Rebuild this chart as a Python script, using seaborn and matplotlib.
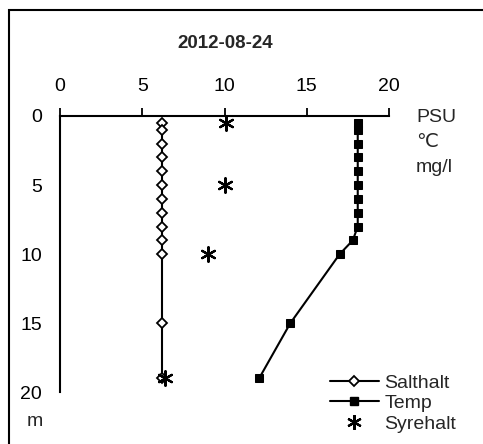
import numpy as np
import pandas as pd
import matplotlib
matplotlib.use("Agg")
import matplotlib.pyplot as plt
import seaborn as sns
from matplotlib.lines import Line2D
from matplotlib.patches import Rectangle

sns.set_theme(style="white")
plt.rcParams['font.family'] = ['Liberation Sans', 'DejaVu Sans']

# data
salt_depth = [0.5, 1, 2, 3, 4, 5, 6, 7, 8, 9, 10, 15, 19]
salt_val = [6.2, 6.2, 6.2, 6.2, 6.2, 6.2, 6.2, 6.2, 6.2, 6.2, 6.2, 6.2, 6.2]
temp_depth = [0.5, 1, 2, 3, 4, 5, 6, 7, 8, 9, 10, 15, 19]
temp_val = [18.1, 18.1, 18.1, 18.1, 18.1, 18.1, 18.1, 18.1, 18.1, 17.8, 17.0, 14.0, 12.1]
oxy_depth = [0.5, 5, 10, 19]
oxy_val = [10.1, 10.0, 9.0, 6.4]

x_ticks = [0, 5, 10, 15, 20]
y_ticks = [0, 5, 10, 15, 20]
title = "2012-08-24"
unit_labels = ["PSU", "\u2103", "mg/l"]

fig = plt.figure(figsize=(4.83, 4.44), dpi=100)
ax = fig.add_axes([60 / 483, 1 - 392.3 / 444, 329 / 483, (392.3 - 116) / 444])
ax.set_facecolor('none')

asterisk = (6, 2, 0)

sns.lineplot(x=salt_val, y=salt_depth, sort=False, estimator=None, ax=ax, color='black', lw=1.5,
             marker='D', markersize=5, mfc='white', mec='black', mew=1.3, clip_on=False)
sns.lineplot(x=temp_val, y=temp_depth, sort=False, estimator=None, ax=ax, color='black', lw=1.5,
             marker='s', markersize=5.8, mfc='black', mec='black', clip_on=False)
sns.scatterplot(x=oxy_val, y=oxy_depth, ax=ax, marker=asterisk, s=110, color='black',
                linewidth=1.6, clip_on=False, zorder=5)

ax.set_xlim(0, 20)
ax.set_ylim(20, 0)
ax.xaxis.tick_top()
ax.set_xticks(x_ticks)
ax.set_yticks(y_ticks)
ax.tick_params(axis='both', which='major', direction='out', length=6, width=1.3,
               labelsize=14, color='black', labelcolor='black')
ax.tick_params(axis='x', pad=9)
ax.tick_params(axis='y', pad=7)
for s in ['bottom', 'right']:
    ax.spines[s].set_visible(False)
for s in ['top', 'left']:
    ax.spines[s].set_color('black')
    ax.spines[s].set_linewidth(1.5)
ax.set_xlabel('')
ax.set_ylabel('')

fig.text(225 / 483, 1 - 43 / 444, title, ha='center', va='center', fontsize=13.5, fontweight='bold')
for i, lab in enumerate(unit_labels):
    fig.text(416 / 483, 1 - (117 + 25 * i) / 444, lab, ha='left', va='center', fontsize=14)
fig.text(35 / 483, 1 - 421 / 444, "m", ha='center', va='center', fontsize=14)

handles = [
    Line2D([], [], color='black', lw=1.5, marker='D', markersize=5, mfc='white', mec='black', mew=1.3),
    Line2D([], [], color='black', lw=1.5, marker='s', markersize=5.8, mfc='black', mec='black'),
    Line2D([], [], color='black', lw=0, marker=asterisk, markersize=10.5, mew=1.6),
]
fig.legend(handles, ["Salthalt", "Temp", "Syrehalt"], loc='upper left',
           bbox_to_anchor=(330 / 483, 1 - 374 / 444), frameon=False, fontsize=14,
           handlelength=2.5, handletextpad=0.3, labelspacing=0.15, borderpad=0, borderaxespad=0)

fig.patches.append(Rectangle((9 / 483, -0.1), 1.2, 1 - 10.5 / 444 + 0.1, transform=fig.transFigure,
                             fill=False, edgecolor='black', lw=1.5))

fig.savefig("out.png", dpi=100)
